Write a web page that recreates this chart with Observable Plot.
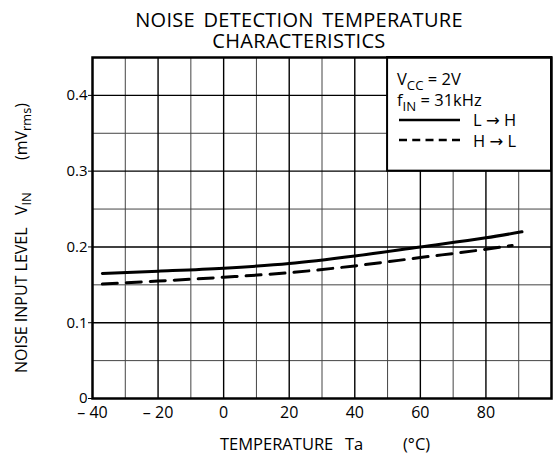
<!DOCTYPE html>
<html><head><meta charset="utf-8">
<script src="https://cdn.jsdelivr.net/npm/d3@7"></script>
<script src="https://cdn.jsdelivr.net/npm/@observablehq/plot@0.6"></script>
<style>html,body{margin:0;padding:0;background:#fff}svg{display:block}</style>
</head><body><div id="chart"></div>
<script>
// Data
const tempLH = [-37, -20, 0, 20, 40, 60, 80, 91];
const vinLH  = [0.165, 0.168, 0.172, 0.178, 0.188, 0.200, 0.212, 0.220];
const tempHL = [-37, -20, 0, 20, 40, 60, 80, 88];
const vinHL  = [0.151, 0.155, 0.160, 0.166, 0.175, 0.186, 0.197, 0.202];

const xTicks = [-40, -20, 0, 20, 40, 60, 80];
const xTickLabels = ["\u2013 40", "\u2013 20", "0", "20", "40", "60", "80"];
const yTicks = [0, 0.1, 0.2, 0.3, 0.4];
const yTickLabels = ["0", "0.1", "0.2", "0.3", "0.4"];
const xGrid = [-30, -20, -10, 0, 10, 20, 30, 40, 50, 60, 70, 80, 90];
const yGrid = [0.05, 0.1, 0.15, 0.2, 0.25, 0.3, 0.35, 0.4];
const xDomain = [-40, 100];
const yDomain = [0, 0.45];
// legend box corner (data units)
const boxX = 50, boxY = 0.3;

const lh = tempLH.map((t, i) => ({t, v: vinLH[i]}));
const hl = tempHL.map((t, i) => ({t, v: vinHL[i]}));
const vLines = xGrid.map(x => ({x, y2: x > boxX ? boxY : yDomain[1], major: x % 20 === 0}));
const hLines = yGrid.map(y => ({y, x2: y > boxY + 1e-9 ? boxX : xDomain[1], major: Math.abs(Math.round(y * 10) - y * 10) < 1e-9}));

const FONT = "Open Sans";
const plot = Plot.plot({
  width: 553, height: 454,
  marginLeft: 92, marginRight: 2, marginTop: 57, marginBottom: 56,
  style: {fontFamily: FONT, background: "white", color: "black"},
  x: {domain: xDomain},
  y: {domain: yDomain},
  marks: [
    Plot.ruleX(vLines.filter(d => !d.major), {x: "x", y1: 0, y2: "y2", stroke: "#444", strokeWidth: 1}),
    Plot.ruleY(hLines.filter(d => !d.major), {y: "y", x1: xDomain[0], x2: "x2", stroke: "#444", strokeWidth: 1}),
    Plot.ruleX(vLines.filter(d => d.major), {x: "x", y1: 0, y2: "y2", stroke: "#000", strokeWidth: 1.4}),
    Plot.ruleY(hLines.filter(d => d.major), {y: "y", x1: xDomain[0], x2: "x2", stroke: "#000", strokeWidth: 1.4}),
    Plot.rect([{x1: boxX, x2: xDomain[1], y1: boxY, y2: yDomain[1]}], {x1: "x1", x2: "x2", y1: "y1", y2: "y2", fill: "white", stroke: "black", strokeWidth: 2}),
    Plot.line(lh, {x: "t", y: "v", stroke: "black", strokeWidth: 3, curve: "monotone-x"}),
    Plot.line(hl, {x: "t", y: "v", stroke: "black", strokeWidth: 3, curve: "monotone-x", strokeDasharray: "15,9"}),
    Plot.frame({stroke: "black", strokeWidth: 2.5}),
    Plot.axisY({ticks: yTicks, tickFormat: (d, i) => yTickLabels[i], tickSize: 4, tickPadding: 1, fontSize: 15, label: null}),
    Plot.axisX({ticks: xTicks, tickFormat: (d, i) => xTickLabels[i], tickSize: 0, tickPadding: 8, fontSize: 16, label: null})
  ]
});
document.getElementById("chart").appendChild(plot);

const svg = d3.select(plot);
function addText(x, y, parts, o = {}) {
  const size = o.size || 16;
  const t = svg.append("text")
    .attr("font-family", FONT).attr("font-size", size).attr("fill", "black")
    .attr("text-anchor", o.anchor || "start").style("white-space", "pre");
  if (o.rotate) t.attr("transform", `translate(${x},${y}) rotate(-90)`).attr("x", 0).attr("y", 0);
  else t.attr("x", x).attr("y", y);
  if (o.ls) t.attr("letter-spacing", o.ls);
  if (o.ws) t.attr("word-spacing", o.ws);
  let shifted = 0;
  for (const p of parts) {
    const s = t.append("tspan").text(p.t);
    const want = p.sub ? Math.round(size * 0.28) : 0;
    if (want !== shifted) { s.attr("dy", want - shifted); shifted = want; }
    if (p.sub) s.attr("font-size", size * 0.8);
    if (p.at != null) s.attr("x", o.rotate ? p.at : x + p.at);
    if (p.font) s.attr("font-family", p.font);
  }
  return t;
}
// Title
addText(299, 27, [{t: "NOISE DETECTION TEMPERATURE"}], {size: 20, anchor: "middle", ls: 0.3, ws: 3});
addText(299, 48, [{t: "CHARACTERISTICS"}], {size: 20, anchor: "middle", ls: 0.3});
// Axis titles
addText(220, 450, [{t: "TEMPERATURE"}, {t: "Ta", at: 125}, {t: "(°C)", at: 183}], {size: 16.5});
addText(27, 373, [{t: "NOISE INPUT LEVEL"}, {t: "V", at: 158}, {t: "IN", sub: true}, {t: "(mV", at: 213}, {t: "rms", sub: true}, {t: ")"}], {size: 16, rotate: true});
// Legend
addText(397, 85, [{t: "V"}, {t: "CC", sub: true}, {t: " = 2V"}], {size: 16.5});
addText(397, 106, [{t: "f"}, {t: "IN", sub: true}, {t: " = 31kHz"}], {size: 16.5});
svg.append("line").attr("x1", 399).attr("x2", 460).attr("y1", 120).attr("y2", 120).attr("stroke", "black").attr("stroke-width", 2.5);
svg.append("line").attr("x1", 399).attr("x2", 460).attr("y1", 140).attr("y2", 140).attr("stroke", "black").attr("stroke-width", 2.5).attr("stroke-dasharray", "8,5.25");
addText(473, 126, [{t: "L "}, {t: "\u2192", font: "DejaVu Sans"}, {t: " H"}], {size: 16.5});
addText(473, 147, [{t: "H "}, {t: "\u2192", font: "DejaVu Sans"}, {t: " L"}], {size: 16.5});
</script></body></html>
